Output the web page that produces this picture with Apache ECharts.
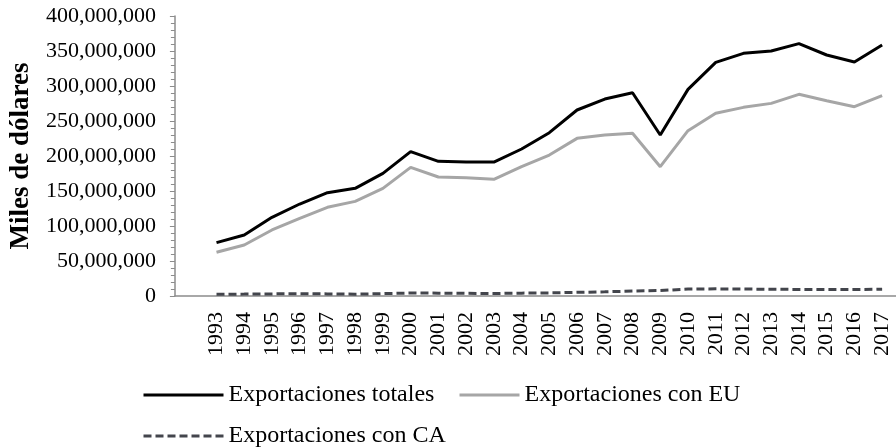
<!DOCTYPE html>
<html>
<head>
<meta charset="utf-8">
<script src="https://cdn.jsdelivr.net/npm/echarts@6/dist/echarts.min.js"></script>
<style>
  html, body { margin: 0; padding: 0; background: #fff; }
  #chart { width: 896px; height: 448px; }
</style>
</head>
<body>
<div id="chart"></div>
<script>
// años (la primera casilla del eje va vacía, como en el original)
var years = ['1993', '1994', '1995', '1996', '1997', '1998', '1999', '2000', '2001', '2002',
  '2003', '2004', '2005', '2006', '2007', '2008', '2009', '2010', '2011', '2012',
  '2013', '2014', '2015', '2016', '2017'];

// miles de dólares
var totales = [76200000, 87100000, 112400000, 131400000, 147600000, 153800000, 175200000, 206200000,
  192400000, 191400000, 191400000, 210000000, 233300000, 265700000, 281400000, 290400000,
  230000000, 295200000, 333800000, 346700000, 350000000, 360500000, 344300000, 334300000, 358600000];

var conEU = [62400000, 72900000, 94300000, 111000000, 126700000, 135200000, 153800000, 183800000,
  170000000, 169000000, 166700000, 184700000, 201400000, 225200000, 230000000, 232400000,
  184700000, 236200000, 261000000, 269500000, 275200000, 288100000, 279000000, 270400000, 286200000];

var conCA = [2500000, 2700000, 3000000, 3400000, 3000000, 2600000, 3400000, 4200000,
  4100000, 3800000, 3600000, 4100000, 4400000, 5200000, 6000000, 7000000,
  7800000, 9900000, 10200000, 10000000, 9600000, 9400000, 9300000, 9300000, 9600000];

var serie1 = 'Exportaciones totales';
var serie2 = 'Exportaciones con EU';
var serie3 = 'Exportaciones con CA';

var fuente = '"Liberation Serif", "Times New Roman", serif';

var chart = echarts.init(document.getElementById('chart'), null, { renderer: 'canvas' });

// solo la línea en la leyenda, sin el círculo
function leyenda(name, left, top, ancho) {
  return {
    data: [name], left: left, top: top, padding: 0,
    itemWidth: ancho, itemHeight: 14,
    itemStyle: { opacity: 0 },
    lineStyle: { width: 3 },
    textStyle: { fontFamily: fuente, fontSize: 24, color: '#000' }
  };
}

chart.setOption({
  animation: false,
  grid: { left: 173, top: 16, right: -4, bottom: 152, containLabel: false },
  legend: [
    leyenda(serie1, 142, 383, 80),
    leyenda(serie2, 458, 383, 60),
    leyenda(serie3, 142, 424, 80)
  ],
  xAxis: {
    type: 'category',
    data: [''].concat(years),
    boundaryGap: true,
    axisLine: { lineStyle: { color: '#8c8c8c', width: 1.5 } },
    axisTick: { interval: 0, length: 5, lineStyle: { color: '#8c8c8c' } },
    axisLabel: {
      interval: 0,
      rotate: 90,
      margin: 16,
      fontFamily: fuente,
      fontSize: 22,
      color: '#000'
    },
    splitLine: { show: false }
  },
  yAxis: {
    type: 'value',
    min: 0,
    max: 400000000,
    interval: 50000000,
    name: 'Miles de dólares',
    nameLocation: 'middle',
    nameRotate: 90,
    nameGap: 137,
    nameTextStyle: { fontFamily: fuente, fontSize: 27, fontWeight: 'bold', color: '#000' },
    axisLine: { show: true, lineStyle: { color: '#8c8c8c', width: 1.5 } },
    axisTick: { show: true, length: 5, lineStyle: { color: '#8c8c8c' } },
    minorTick: { show: true, splitNumber: 5, length: 4, lineStyle: { color: '#8c8c8c' } },
    axisLabel: {
      margin: 19,
      fontFamily: fuente,
      fontSize: 22,
      color: '#000',
      formatter: function (v) { return v.toLocaleString('en-US'); }
    },
    splitLine: { show: false }
  },
  series: [
    {
      name: serie1, type: 'line', symbol: 'none',
      data: [null].concat(totales),
      lineStyle: { color: '#000000', width: 3 },
      itemStyle: { color: '#000000' }
    },
    {
      name: serie2, type: 'line', symbol: 'none',
      data: [null].concat(conEU),
      lineStyle: { color: '#a6a6a6', width: 3 },
      itemStyle: { color: '#a6a6a6' }
    },
    {
      name: serie3, type: 'line', symbol: 'none',
      data: [null].concat(conCA),
      lineStyle: { color: '#43454c', width: 3, type: [8, 4] },
      itemStyle: { color: '#43454c' }
    }
  ]
});
</script>
</body>
</html>
